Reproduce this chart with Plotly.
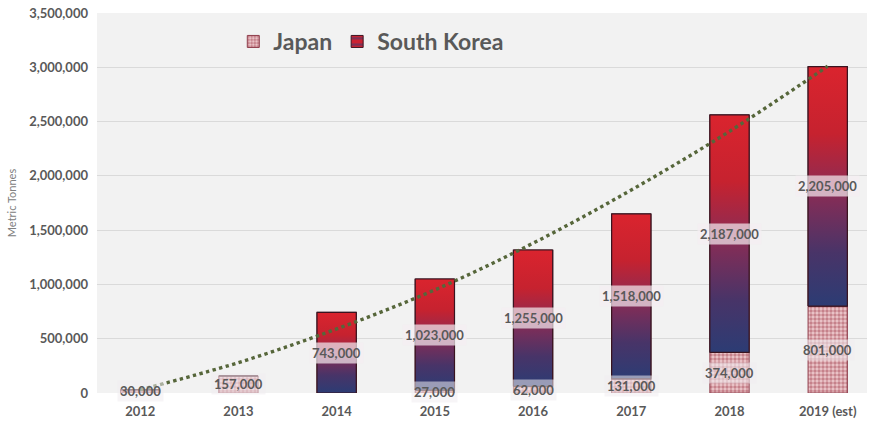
import plotly.graph_objects as go

# Annual volumes (metric tonnes)
years = ["2012", "2013", "2014", "2015", "2016", "2017", "2018", "2019 (est)"]
japan = [30000, 157000, 0, 27000, 62000, 131000, 374000, 801000]
south_korea = [0, 0, 743000, 1023000, 1255000, 1518000, 2187000, 2205000]
# Trendline readings for the combined total, one per year
trend = [30000, 280000, 590000, 950000, 1380000, 1870000, 2410000, 3010000]

y_ticks = [0, 500000, 1000000, 1500000, 2000000, 2500000, 3000000, 3500000]

BAR_W = 0.4
TXT = "#595959"
FONT = "Lato"
xs = list(range(len(years)))

fig = go.Figure()

# Japan: patterned bars from zero
fig.add_trace(go.Bar(
    x=xs, y=japan, width=BAR_W, name="Japan",
    marker=dict(
        color="#e4b8bd",
        line=dict(color="#8e3c4a", width=1),
        pattern=dict(shape=".", fgcolor="#a03a4a", bgcolor="#ecc8cc",
                     size=4, solidity=0.6),
    ),
    hovertemplate="Japan %{x}: %{y:,}<extra></extra>",
))

# South Korea: stacked on Japan (legend entry + base fill)
fig.add_trace(go.Bar(
    x=xs, y=south_korea, base=japan, width=BAR_W, name="South Korea",
    marker=dict(
        color="#c0202e",
        line=dict(color="#3d1420", width=1),
        pattern=dict(shape="-", fgcolor="#2a3f78", bgcolor="#cc2232", size=8, solidity=0.35),
    ),
    hovertemplate="South Korea %{x}: %{y:,}<extra></extra>",
))

# Gradient overlay for each South Korea bar (navy at the base, red at the top)
for i, (jp, kr) in enumerate(zip(japan, south_korea)):
    if kr <= 0:
        continue
    lo, hi = jp, jp + kr
    x0, x1 = i - BAR_W / 2, i + BAR_W / 2
    fig.add_trace(go.Scatter(
        x=[x0, x1, x1, x0, x0], y=[lo, lo, hi, hi, lo],
        mode="lines", fill="toself",
        line=dict(color="#3a1420", width=1.2),
        fillgradient=dict(
            type="vertical",
            colorscale=[[0.0, "#2c3c74"], [0.22, "#483468"], [0.48, "#8a2c55"],
                        [0.72, "#c6222f"], [1.0, "#da242e"]],
        ),
        showlegend=False, hoverinfo="skip",
    ))

# Polynomial trendline of the total
fig.add_trace(go.Scatter(
    x=xs, y=trend, mode="lines",
    line=dict(color="#56663a", width=3.4, dash="dot", shape="spline"),
    showlegend=False, hoverinfo="skip",
))

# Value labels centred in each segment
annotations = []
for i, (jp, kr) in enumerate(zip(japan, south_korea)):
    if jp > 0:
        annotations.append(dict(x=i, y=jp / 2, text=f"{jp:,}", showarrow=False,
                                font=dict(family=FONT, size=13, color=TXT, weight="bold"),
                                bgcolor="rgba(240,236,240,0.55)", borderpad=2))
    if kr > 0:
        annotations.append(dict(x=i, y=jp + kr / 2, text=f"{kr:,}", showarrow=False,
                                font=dict(family=FONT, size=13, color=TXT, weight="bold"),
                                bgcolor="rgba(245,238,242,0.7)", borderpad=2))

fig.update_layout(
    width=869, height=424,
    margin=dict(l=97, r=2, t=13, b=31),
    paper_bgcolor="white", plot_bgcolor="#f2f2f2",
    barmode="overlay",
    showlegend=True,
    legend=dict(orientation="h", x=0.177, y=0.925, xanchor="left", yanchor="middle",
                bgcolor="rgba(0,0,0,0)", font=dict(family=FONT, size=23, color=TXT, weight="bold"),
                itemwidth=30, traceorder="normal"),
    annotations=annotations,
    font=dict(family=FONT, color=TXT),
)
fig.update_xaxes(range=[-0.44, 7.4], tickmode="array", tickvals=xs, ticktext=years,
                 showgrid=False, zeroline=False, showline=False, ticks="",
                 ticklabelstandoff=9,
                 tickfont=dict(family=FONT, size=13, color=TXT, weight="bold"))
fig.update_yaxes(range=[0, 3500000], tickmode="array", tickvals=y_ticks, tickformat=",d",
                 gridcolor="#dadada", gridwidth=1, zeroline=False, showline=False, ticks="",
                 ticklabelstandoff=8,
                 tickfont=dict(family=FONT, size=13, color=TXT, weight="bold"),
                 title=dict(text="Metric Tonnes", standoff=10,
                            font=dict(family=FONT, size=11, color="#808080")))

fig.write_html("out.html")
